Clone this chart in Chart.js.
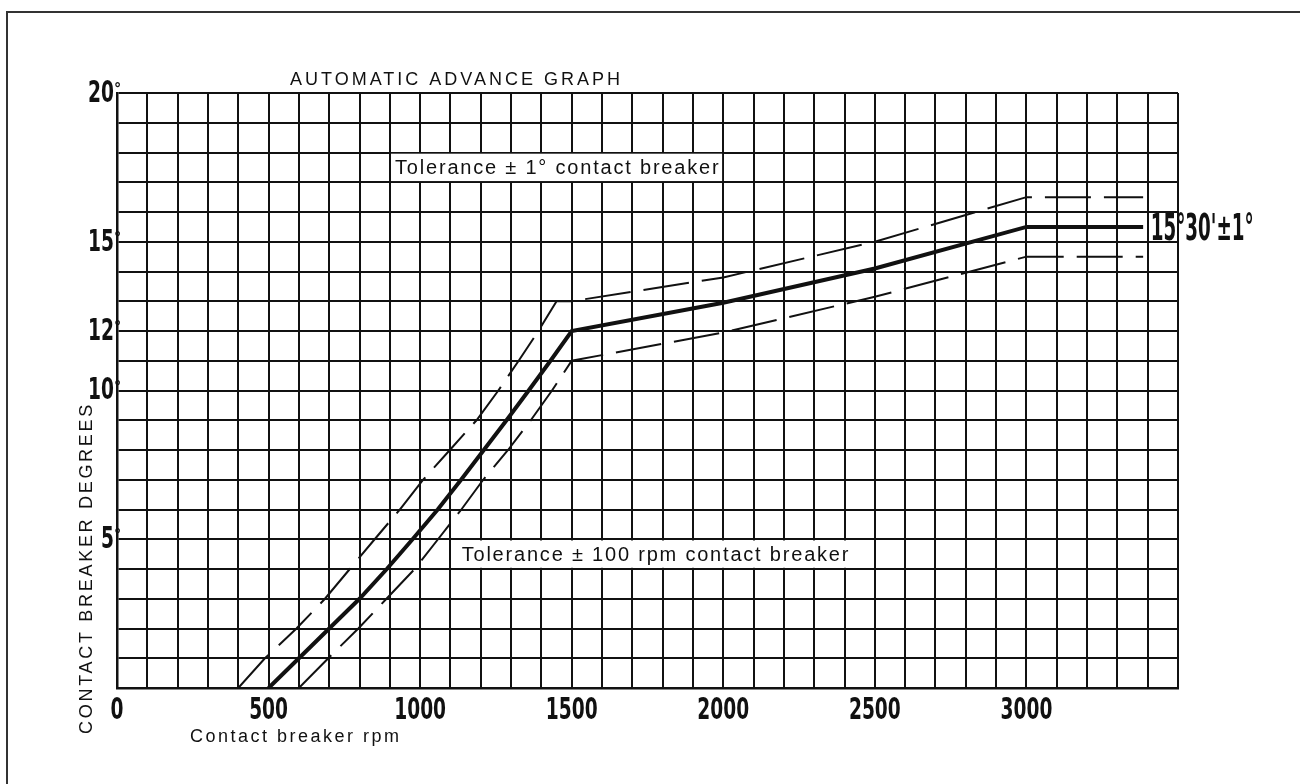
<!DOCTYPE html>
<html>
<head>
<meta charset="utf-8">
<title>Automatic advance graph</title>
<script src="https://cdn.jsdelivr.net/npm/chart.js@4.4.1/dist/chart.umd.min.js"></script>
<style>
    html, body { margin: 0; padding: 0; background: #fff; }
    #contenedor { width: 1300px; height: 784px; }
</style>
</head>
<body>
<div id="contenedor"><canvas id="graficoAvance" width="1300" height="784"></canvas></div>
<script>
// curva nominal (linea gruesa), rpm del ruptor -> grados
const rpm_nominal = [500, 600, 700, 800, 890, 975, 1058, 1135, 1210, 1285, 1358, 1430, 1500, 2000, 2500, 3000, 3385];
const grados_nominal = [0, 1, 2, 3, 4, 5, 6, 7, 8, 9, 10, 11, 12, 12.95, 14.1, 15.5, 15.5];

// tolerancia superior (discontinua)
const rpm_superior = [400, 488, 592, 686, 768, 850, 933, 1010, 1098, 1186, 1258, 1325, 1390, 1450, 1500, 2000, 2500, 3000, 3385];
const grados_superior = [0, 1, 2, 3, 4, 5, 6, 7, 8, 9, 10, 11, 12, 13, 13, 13.8, 15.0, 16.5, 16.5];

// tolerancia inferior (discontinua)
const rpm_inferior = [600, 697, 796, 889, 982, 1059, 1136, 1208, 1290, 1365, 1435, 1500, 2000, 2500, 3000, 3385];
const grados_inferior = [0, 1, 2, 3, 4, 5, 6, 7, 8, 9, 10, 11, 11.95, 13.15, 14.5, 14.5];

const etiquetas_x = [0, 500, 1000, 1500, 2000, 2500, 3000];
const etiquetas_y = [5, 10, 12, 15, 20];

const fuente_num = '"DejaVu Sans Condensed", "Liberation Sans Narrow", "Arial Narrow", sans-serif';
const fuente_txt = '"Liberation Sans", Arial, sans-serif';

const puntos = (xs, ys) => xs.map((x, i) => ({ x: x, y: ys[i] }));

// texto angosto: la fuente condensada se aprieta un poco mas
function textoAngosto(ctx, texto, px, py, escala, alinear) {
    ctx.save();
    ctx.translate(px, py);
    ctx.scale(escala, 1);
    ctx.textAlign = alinear;
    ctx.fillText(texto, 0, 0);
    ctx.restore();
}

// textos sueltos, cajas blancas, etiquetas de ejes y marco de la hoja
const extras = {
    id: 'extras',
    beforeDraw(chart) {
    const ctx = chart.ctx;
    ctx.save();
    ctx.fillStyle = '#fff';
    ctx.fillRect(0, 0, chart.width, chart.height);
    ctx.strokeStyle = '#333';
    ctx.lineWidth = 2;
    ctx.beginPath();
    ctx.moveTo(7, chart.height);
    ctx.lineTo(7, 12);
    ctx.lineTo(chart.width, 12);
    ctx.stroke();
    ctx.restore();
    },
    afterDatasetsDraw(chart) {
    const { ctx, scales: { x, y } } = chart;
    ctx.save();

    function caja(x0, x1, y0, y1, texto, dx) {
        const l = x.getPixelForValue(x0) + 1.2, r = x.getPixelForValue(x1) - 1.2;
        const t = y.getPixelForValue(y1) + 1.2, b = y.getPixelForValue(y0) - 1.2;
        ctx.fillStyle = '#fff';
        ctx.fillRect(l, t, r - l, b - t);
        ctx.fillStyle = '#111';
        ctx.font = '20px ' + fuente_txt;
        ctx.letterSpacing = '1.8px';
        ctx.textAlign = 'left';
        ctx.textBaseline = 'middle';
        ctx.fillText(texto, l + dx, (t + b) / 2 + 1);
    }
    caja(900, 2000, 17, 18, 'Tolerance \u00b1 1\u00b0 contact breaker', 4);
    caja(1100, 2500, 4, 5, 'Tolerance \u00b1 100 rpm contact breaker', 10);

    ctx.fillStyle = '#111';
    ctx.textAlign = 'left';
    ctx.textBaseline = 'alphabetic';
    ctx.font = '18px ' + fuente_txt;
    ctx.letterSpacing = '3px';
    ctx.fillText('AUTOMATIC ADVANCE GRAPH', 290, 85);

    ctx.letterSpacing = '2.5px';
    ctx.fillText('Contact breaker rpm', 190, 742);

    ctx.save();
    ctx.translate(92, 568);
    ctx.rotate(-Math.PI / 2);
    ctx.textAlign = 'center';
    ctx.letterSpacing = '2.7px';
    ctx.fillText('CONTACT BREAKER DEGREES', 0, 0);
    ctx.restore();

    // valor final al lado de la curva
    ctx.letterSpacing = '0px';
    ctx.font = 'bold 37px ' + fuente_num;
    textoAngosto(ctx, '15\u00b030\'\u00b11\u00b0', x.getPixelForValue(3400) + 3, y.getPixelForValue(15) - 2, 0.55, 'left');

    ctx.restore();
    },
    afterDraw(chart) {
    const { ctx, scales: { x, y } } = chart;
    ctx.save();
    ctx.fillStyle = '#111';
    ctx.letterSpacing = '0px';

    ctx.font = 'bold 30px ' + fuente_num;
    ctx.textBaseline = 'middle';
    etiquetas_x.forEach((v) => {
        textoAngosto(ctx, String(v), x.getPixelForValue(v), y.bottom + 23, 0.69, 'center');
    });

    etiquetas_y.forEach((v) => {
        const py = y.getPixelForValue(v);
        ctx.font = 'bold 30px ' + fuente_num;
        ctx.textBaseline = 'middle';
        textoAngosto(ctx, String(v), x.left - 3, py + 1, 0.69, 'right');
        ctx.font = 'bold 16px ' + fuente_num;
        ctx.textBaseline = 'alphabetic';
        ctx.textAlign = 'left';
        ctx.fillText('\u00b0', x.left - 3, py + 1);
    });
    ctx.restore();
    }
};

const ctx_avance = document.getElementById('graficoAvance').getContext('2d');
const grafico_avance = new Chart(ctx_avance, {
    type: 'line',
    data: {
    datasets: [{
        label: 'Tolerancia superior',
        data: puntos(rpm_superior, grados_superior),
        borderColor: '#111',
        borderWidth: 2,
        borderDash: [46, 13],
        pointRadius: 0,
        tension: 0
    }, {
        label: 'Nominal',
        data: puntos(rpm_nominal, grados_nominal),
        borderColor: '#111',
        borderWidth: 4,
        pointRadius: 0,
        tension: 0
    }, {
        label: 'Tolerancia inferior',
        data: puntos(rpm_inferior, grados_inferior),
        borderColor: '#111',
        borderWidth: 2,
        borderDash: [46, 13],
        pointRadius: 0,
        tension: 0
    }]
    },
    options: {
    responsive: false,
    animation: false,
    layout: { padding: { left: 57, right: 122, top: 93, bottom: 46 } },
    plugins: {
        legend: { display: false },
        tooltip: { enabled: false }
    },
    scales: {
        x: {
        type: 'linear',
        min: 0,
        max: 3500,
        afterFit: (s) => { s.height = 50; },
        grid: { color: '#111', lineWidth: 2, drawTicks: false },
        border: { color: '#111', width: 2.5 },
        ticks: { stepSize: 100, autoSkip: false, display: false }
        },
        y: {
        type: 'linear',
        min: 0,
        max: 20,
        afterFit: (s) => { s.width = 60; },
        grid: { color: '#111', lineWidth: 2, drawTicks: false },
        border: { color: '#111', width: 2.5 },
        ticks: { stepSize: 1, autoSkip: false, display: false }
        }
    }
    },
    plugins: [extras]
});
</script>
</body>
</html>
